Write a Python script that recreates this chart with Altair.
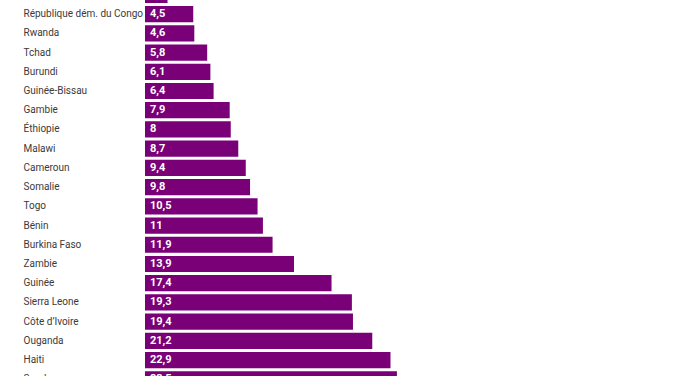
import altair as alt
import pandas as pd

countries = ["Mali", "République dém. du Congo", "Rwanda", "Tchad", "Burundi",
             "Guinée-Bissau", "Gambie", "Éthiopie", "Malawi", "Cameroun", "Somalie",
             "Togo", "Bénin", "Burkina Faso", "Zambie", "Guinée", "Sierra Leone",
             "Côte d’Ivoire", "Ouganda", "Haiti", "Soudan"]
values = [2.1, 4.5, 4.6, 5.8, 6.1, 6.4, 7.9, 8, 8.7, 9.4, 9.8, 10.5, 11, 11.9,
          13.9, 17.4, 19.3, 19.4, 21.2, 22.9, 23.5]


def fmt(v):
    s = ("%g" % v)
    return s.replace(".", ",")


df = pd.DataFrame({"pays": countries, "valeur": values,
                   "label": [fmt(v) for v in values]})

PURPLE = "#7a0078"
n = len(countries)
step = 19.22
pi = 0.157
start = -13.2
end = start + step * (n - pi)

y = alt.Y("pays:N", sort=countries,
          scale=alt.Scale(range=[start, end], paddingInner=pi, paddingOuter=0),
          axis=alt.Axis(title=None, domain=False, ticks=False, tickSize=0,
                        labelAlign="left", labelPadding=122, labelFont="Roboto",
                        labelFontSize=10, labelColor="#3a3a3a", labelLimit=200,
                        grid=False))
x_scale = alt.Scale(domain=[0, 548 / 10.72], nice=False)

bars = alt.Chart(df).mark_bar(color=PURPLE).encode(
    y=y,
    x=alt.X("valeur:Q", scale=x_scale, axis=None),
)

labels = alt.Chart(df).mark_text(
    align="left", baseline="middle", dx=5, color="white",
    font="Roboto", fontSize=11, fontWeight="bold"
).encode(
    y=alt.Y("pays:N", sort=countries),
    x=alt.X(datum=0, scale=x_scale),
    text="label:N",
)

chart = alt.layer(bars, labels).properties(
    width=548, height=376,
    autosize=alt.AutoSizeParams(type="none"),
    padding={"left": 145, "top": 0, "right": 0, "bottom": 0},
    background="white",
).configure_view(stroke=None)

chart.save("out.html", embed_options={"renderer": "svg", "actions": False})
